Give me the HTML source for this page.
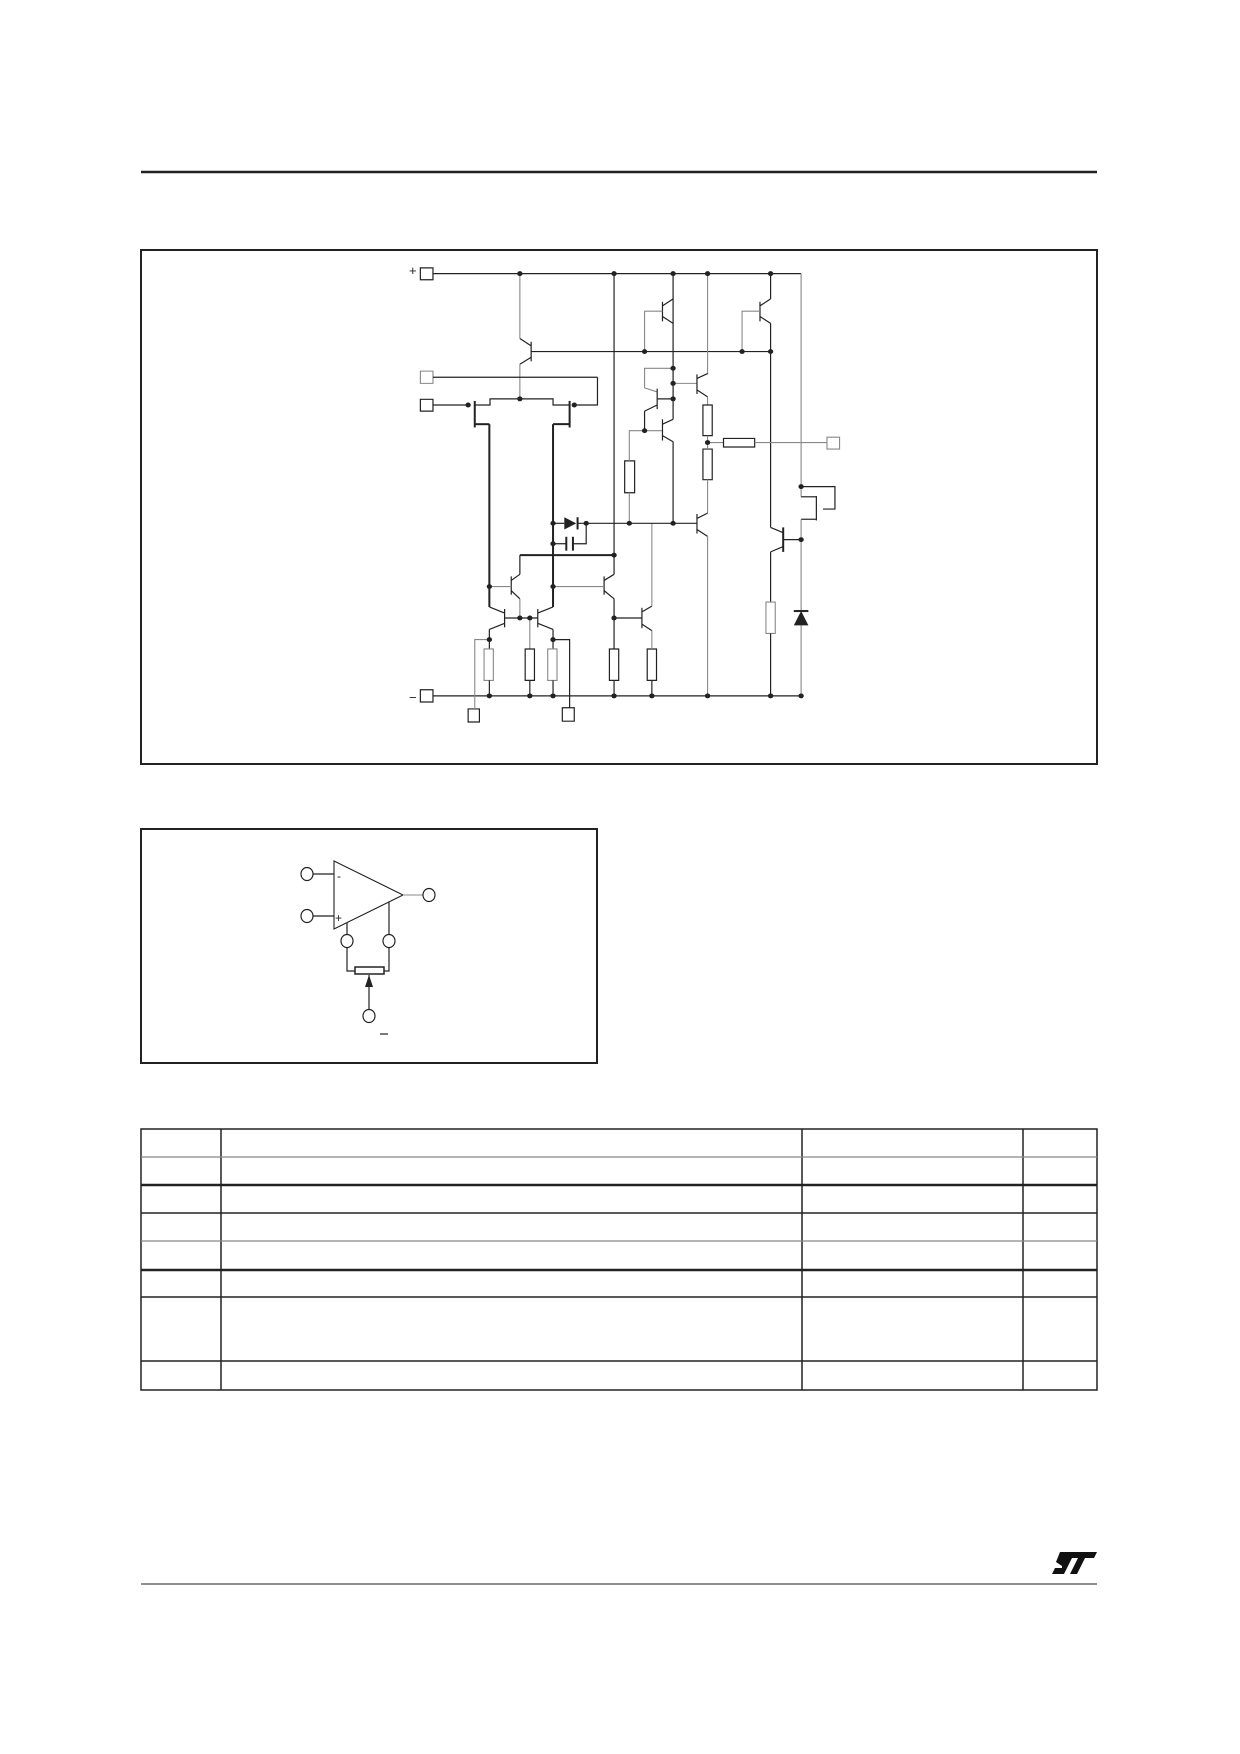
<!DOCTYPE html>
<html><head><meta charset="utf-8"><style>
html,body{margin:0;padding:0;background:#fff}
svg{display:block}
line,polyline,rect,path,polygon,ellipse{vector-effect:non-scaling-stroke}
.t{stroke:#222;stroke-width:1.2;fill:none}
.g{stroke:#888;stroke-width:1.1;fill:none}
.k{stroke:#222;stroke-width:2;fill:none}
.r{stroke:#222;stroke-width:1.2;fill:#fff}
.rg{stroke:#888;stroke-width:1.1;fill:#fff}
.d{fill:#222}
</style></head><body>
<svg width="1240" height="1754" viewBox="0 0 1240 1754" xmlns="http://www.w3.org/2000/svg">
<line x1="141" y1="172" x2="1097" y2="172" stroke="#222" stroke-width="2.5"/>
<line x1="141" y1="1584" x2="1097" y2="1584" stroke="#222" stroke-width="1"/>
<polygon points="1060,1552 1097,1552 1094,1558 1085,1558 1077,1574 1070,1574 1078,1558 1072,1558 1064,1574 1052,1574 1055,1568 1062,1568 1062,1566 1056,1562" fill="#111"/>
<rect x="141" y="250" width="956" height="514" fill="none" stroke="#222" stroke-width="2"/>
<rect x="141" y="829" width="456" height="234" fill="none" stroke="#222" stroke-width="2"/>

<g transform="matrix(0.6633 0 0 0.408 100 150)">
<rect class="r" x="483" y="289" width="19" height="29"/>
<rect class="rg" x="483" y="542" width="19" height="30"/>
<rect class="r" x="483" y="611" width="19" height="29"/>
<rect class="r" x="483" y="1323" width="19" height="30"/>
<rect class="r" x="555" y="1370" width="17" height="32"/>
<rect class="r" x="697" y="1367" width="18" height="33"/>
<rect class="rg" x="1096" y="704" width="19" height="29"/>
<line class="t" x1="502" y1="303" x2="1057" y2="303"/>
<line class="t" x1="502" y1="1338" x2="1057" y2="1338"/>
<line class="g" x1="633" y1="303" x2="633" y2="462"/>
<line class="t" x1="650" y1="470" x2="650" y2="518"/>
<line class="t" x1="650" y1="480" x2="633" y2="462"/>
<line class="t" x1="650" y1="508" x2="633" y2="525"/>
<line class="g" x1="633" y1="525" x2="633" y2="610"/>
<line class="t" x1="650" y1="494" x2="1011" y2="494"/>
<line class="t" x1="502" y1="557" x2="750" y2="557"/>
<polyline class="t" points="750,557 750,625 715,625"/>
<line class="t" x1="502" y1="625" x2="555" y2="625"/>
<polyline class="t" points="565,625 588,625 588,610 683,610 683,625 708,625"/>
<line class="k" x1="565" y1="615" x2="565" y2="680"/>
<line class="k" x1="708" y1="615" x2="708" y2="680"/>
<line class="k" x1="565" y1="672" x2="587" y2="672"/>
<line class="k" x1="683" y1="672" x2="708" y2="672"/>
<line class="k" x1="587" y1="672" x2="587" y2="1120"/>
<line class="k" x1="683" y1="672" x2="683" y2="1120"/>
<line class="t" x1="775" y1="303" x2="775" y2="1040"/>
<line class="k" x1="633" y1="993" x2="775" y2="993"/>
<line class="t" x1="633" y1="993" x2="633" y2="1040"/>
<line class="t" x1="620" y1="1045" x2="620" y2="1090"/>
<line class="t" x1="620" y1="1055" x2="633" y2="1040"/>
<line class="t" x1="620" y1="1080" x2="633" y2="1100"/>
<line class="g" x1="587" y1="1070" x2="620" y2="1070"/>
<line class="g" x1="633" y1="1100" x2="633" y2="1147"/>
<line class="t" x1="760" y1="1045" x2="760" y2="1090"/>
<line class="t" x1="760" y1="1055" x2="775" y2="1040"/>
<line class="t" x1="760" y1="1080" x2="775" y2="1100"/>
<line class="g" x1="683" y1="1070" x2="760" y2="1070"/>
<line class="t" x1="775" y1="1100" x2="775" y2="1223"/>
<line class="t" x1="610" y1="1125" x2="610" y2="1170"/>
<line class="t" x1="610" y1="1135" x2="587" y2="1120"/>
<line class="t" x1="610" y1="1160" x2="587" y2="1175"/>
<line class="t" x1="660" y1="1125" x2="660" y2="1170"/>
<line class="t" x1="660" y1="1135" x2="683" y2="1120"/>
<line class="t" x1="660" y1="1160" x2="683" y2="1175"/>
<line class="t" x1="610" y1="1147" x2="660" y2="1147"/>
<line class="t" x1="587" y1="1175" x2="587" y2="1223"/>
<line class="t" x1="683" y1="1175" x2="683" y2="1223"/>
<line class="g" x1="648" y1="1147" x2="648" y2="1223"/>
<polyline class="g" points="587,1200 565,1200 565,1370"/>
<polyline class="t" points="683,1200 708,1200 708,1367"/>
<rect class="rg" x="579" y="1223" width="14" height="77"/>
<rect class="r" x="641" y="1223" width="14" height="77"/>
<rect class="rg" x="675" y="1223" width="14" height="77"/>
<rect class="r" x="768" y="1223" width="14" height="77"/>
<rect class="r" x="825" y="1223" width="14" height="77"/>
<line class="t" x1="587" y1="1300" x2="587" y2="1338"/>
<line class="t" x1="648" y1="1300" x2="648" y2="1338"/>
<line class="t" x1="683" y1="1300" x2="683" y2="1338"/>
<line class="t" x1="775" y1="1300" x2="775" y2="1338"/>
<line class="t" x1="832" y1="1300" x2="832" y2="1338"/>
<line class="t" x1="775" y1="1147" x2="817" y2="1147"/>
<line class="t" x1="817" y1="1122" x2="817" y2="1172"/>
<line class="t" x1="817" y1="1132" x2="832" y2="1118"/>
<line class="t" x1="817" y1="1162" x2="832" y2="1178"/>
<line class="g" x1="832" y1="1118" x2="832" y2="915"/>
<line class="g" x1="832" y1="1178" x2="832" y2="1223"/>
<line class="t" x1="683" y1="915" x2="700" y2="915"/>
<polygon points="700,900 718,915 700,930" fill="#222"/>
<line class="k" x1="720" y1="900" x2="720" y2="930"/>
<line class="t" x1="720" y1="915" x2="900" y2="915"/>
<line class="t" x1="683" y1="965" x2="703" y2="965"/>
<line class="k" x1="703" y1="948" x2="703" y2="982"/>
<line class="k" x1="713" y1="948" x2="713" y2="982"/>
<polyline class="t" points="713,965 733,965 733,915"/>
<rect class="r" x="791" y="762" width="15" height="78"/>
<line class="g" x1="798" y1="840" x2="798" y2="915"/>
<polyline class="g" points="798,762 798,688 848,688"/>
<line class="t" x1="848" y1="660" x2="848" y2="712"/>
<line class="t" x1="848" y1="672" x2="864" y2="660"/>
<line class="t" x1="848" y1="700" x2="864" y2="715"/>
<line class="t" x1="864" y1="715" x2="864" y2="915"/>
<line class="t" x1="864" y1="660" x2="864" y2="303"/>
<polyline class="g" points="864,535 821,535 821,583 840,593"/>
<line class="t" x1="840" y1="585" x2="840" y2="635"/>
<line class="t" x1="840" y1="610" x2="864" y2="610"/>
<line class="t" x1="840" y1="625" x2="821" y2="640"/>
<line class="t" x1="821" y1="640" x2="821" y2="688"/>
<line class="t" x1="848" y1="372" x2="848" y2="420"/>
<line class="t" x1="848" y1="382" x2="864" y2="365"/>
<line class="t" x1="848" y1="408" x2="864" y2="425"/>
<polyline class="g" points="848,395 821,395 821,494"/>
<line class="t" x1="995" y1="372" x2="995" y2="420"/>
<line class="t" x1="995" y1="382" x2="1011" y2="365"/>
<line class="t" x1="995" y1="408" x2="1011" y2="425"/>
<polyline class="g" points="995,395 968,395 968,494"/>
<line class="t" x1="1011" y1="303" x2="1011" y2="365"/>
<line class="t" x1="1011" y1="425" x2="1011" y2="925"/>
<line class="g" x1="916" y1="303" x2="916" y2="550"/>
<line class="g" x1="864" y1="572" x2="900" y2="572"/>
<line class="t" x1="900" y1="550" x2="900" y2="598"/>
<line class="t" x1="900" y1="560" x2="916" y2="548"/>
<line class="t" x1="900" y1="588" x2="916" y2="605"/>
<line class="g" x1="916" y1="605" x2="916" y2="625"/>
<rect class="r" x="909" y="625" width="14" height="75"/>
<rect class="r" x="909" y="733" width="14" height="75"/>
<line class="g" x1="916" y1="700" x2="916" y2="733"/>
<line class="g" x1="916" y1="717" x2="940" y2="717"/>
<rect class="r" x="940" y="707" width="47" height="21"/>
<line class="g" x1="987" y1="717" x2="1096" y2="717"/>
<line class="g" x1="916" y1="808" x2="916" y2="890"/>
<line class="t" x1="900" y1="892" x2="900" y2="940"/>
<line class="t" x1="900" y1="903" x2="916" y2="890"/>
<line class="t" x1="900" y1="930" x2="916" y2="947"/>
<line class="g" x1="916" y1="947" x2="916" y2="1338"/>
<line class="g" x1="1057" y1="303" x2="1057" y2="850"/>
<polyline class="t" points="1057,825 1108,825 1108,880 1090,880"/>
<line class="t" x1="1057" y1="850" x2="1080" y2="850"/>
<line class="t" x1="1080" y1="848" x2="1080" y2="908"/>
<line class="t" x1="1057" y1="905" x2="1080" y2="905"/>
<line class="g" x1="1057" y1="905" x2="1057" y2="1338"/>
<line class="t" x1="1030" y1="955" x2="1057" y2="955"/>
<line class="k" x1="1030" y1="925" x2="1030" y2="985"/>
<line class="t" x1="1030" y1="938" x2="1011" y2="925"/>
<line class="t" x1="1030" y1="972" x2="1011" y2="985"/>
<line class="t" x1="1011" y1="985" x2="1011" y2="1108"/>
<rect class="rg" x="1004" y="1108" width="14" height="77"/>
<line class="t" x1="1011" y1="1185" x2="1011" y2="1338"/>
<polygon points="1057,1130 1068,1165 1046,1165" fill="#222"/>
<line class="k" x1="1046" y1="1130" x2="1068" y2="1130"/>
<g class="d">
<ellipse cx="633" cy="303" rx="4" ry="6"/><ellipse cx="775" cy="303" rx="4" ry="6"/><ellipse cx="864" cy="303" rx="4" ry="6"/><ellipse cx="916" cy="303" rx="4" ry="6"/><ellipse cx="1011" cy="303" rx="4" ry="6"/>
<ellipse cx="821" cy="494" rx="4" ry="6"/><ellipse cx="968" cy="494" rx="4" ry="6"/><ellipse cx="1011" cy="494" rx="4" ry="6"/>
<ellipse cx="864" cy="535" rx="4" ry="6"/><ellipse cx="864" cy="572" rx="4" ry="6"/><ellipse cx="864" cy="610" rx="4" ry="6"/>
<ellipse cx="633" cy="610" rx="4" ry="6"/><ellipse cx="555" cy="625" rx="4" ry="6"/><ellipse cx="715" cy="625" rx="4" ry="6"/>
<ellipse cx="821" cy="688" rx="4" ry="6"/><ellipse cx="916" cy="717" rx="4" ry="6"/><ellipse cx="1057" cy="825" rx="4" ry="6"/>
<ellipse cx="683" cy="915" rx="4" ry="6"/><ellipse cx="733" cy="915" rx="4" ry="6"/><ellipse cx="798" cy="915" rx="4" ry="6"/><ellipse cx="864" cy="915" rx="4" ry="6"/>
<ellipse cx="683" cy="965" rx="4" ry="6"/><ellipse cx="775" cy="993" rx="4" ry="6"/><ellipse cx="1057" cy="955" rx="4" ry="6"/>
<ellipse cx="587" cy="1070" rx="4" ry="6"/><ellipse cx="683" cy="1070" rx="4" ry="6"/>
<ellipse cx="633" cy="1147" rx="4" ry="6"/><ellipse cx="648" cy="1147" rx="4" ry="6"/><ellipse cx="775" cy="1147" rx="4" ry="6"/>
<ellipse cx="587" cy="1200" rx="4" ry="6"/><ellipse cx="683" cy="1200" rx="4" ry="6"/>
<ellipse cx="587" cy="1338" rx="4" ry="6"/><ellipse cx="648" cy="1338" rx="4" ry="6"/><ellipse cx="683" cy="1338" rx="4" ry="6"/><ellipse cx="775" cy="1338" rx="4" ry="6"/><ellipse cx="832" cy="1338" rx="4" ry="6"/><ellipse cx="916" cy="1338" rx="4" ry="6"/><ellipse cx="1011" cy="1338" rx="4" ry="6"/><ellipse cx="1057" cy="1338" rx="4" ry="6"/>
</g>
</g>
<text x="409" y="275" font-family="Liberation Sans, sans-serif" font-size="13" fill="#222">+</text>
<text x="409" y="702" font-family="Liberation Sans, sans-serif" font-size="13" fill="#222">−</text>

<g>
<polygon points="334,861 403,895 334,929" fill="#fff" stroke="#222" stroke-width="1.1"/>
<line class="t" x1="312" y1="874" x2="334" y2="874"/>
<line class="t" x1="312" y1="916" x2="334" y2="916"/>
<line class="g" x1="403" y1="895" x2="423" y2="895"/>
<ellipse cx="307" cy="874" rx="6" ry="6.5" class="r"/>
<ellipse cx="307" cy="916" rx="6" ry="6.5" class="r"/>
<ellipse cx="429" cy="895" rx="6" ry="6.5" class="r"/>
<text x="337" y="880" font-family="Liberation Sans, sans-serif" font-size="12" fill="#222">-</text>
<text x="335" y="922" font-family="Liberation Sans, sans-serif" font-size="12" fill="#222">+</text>
<line class="t" x1="347" y1="923" x2="347" y2="935"/>
<line class="t" x1="389" y1="902" x2="389" y2="935"/>
<ellipse cx="347" cy="941" rx="6" ry="6.5" class="r"/>
<ellipse cx="389" cy="941" rx="6" ry="6.5" class="r"/>
<polyline class="t" points="347,948 347,971 355,971"/>
<polyline class="t" points="389,948 389,971 384,971"/>
<rect x="355" y="967" width="29" height="7" fill="#fff" stroke="#222" stroke-width="1.5"/>
<line class="t" x1="369" y1="975" x2="369" y2="1009"/>
<polygon points="369,975 365,987 373,987" fill="#222"/>
<ellipse cx="369" cy="1016" rx="6" ry="6.5" class="r"/>
<line x1="380" y1="1034" x2="388" y2="1034" stroke="#222" stroke-width="1.2"/>
</g>

<g stroke="#222" fill="none">
<rect x="141" y="1129" width="956" height="261" stroke-width="1.5"/>
<line x1="221" y1="1129" x2="221" y2="1390" stroke-width="1.5"/>
<line x1="802" y1="1129" x2="802" y2="1390" stroke-width="1.5"/>
<line x1="1023" y1="1129" x2="1023" y2="1390" stroke-width="1.5"/>
<line x1="141" y1="1157" x2="1097" y2="1157" stroke="#888" stroke-width="1.2"/>
<line x1="141" y1="1185" x2="1097" y2="1185" stroke-width="2.5"/>
<line x1="141" y1="1213" x2="1097" y2="1213" stroke-width="1.5"/>
<line x1="141" y1="1241" x2="1097" y2="1241" stroke="#888" stroke-width="1.2"/>
<line x1="141" y1="1270" x2="1097" y2="1270" stroke-width="2.5"/>
<line x1="141" y1="1297" x2="1097" y2="1297" stroke-width="1.5"/>
<line x1="141" y1="1361" x2="1097" y2="1361" stroke-width="1.5"/>
</g>
</svg>
</body></html>
